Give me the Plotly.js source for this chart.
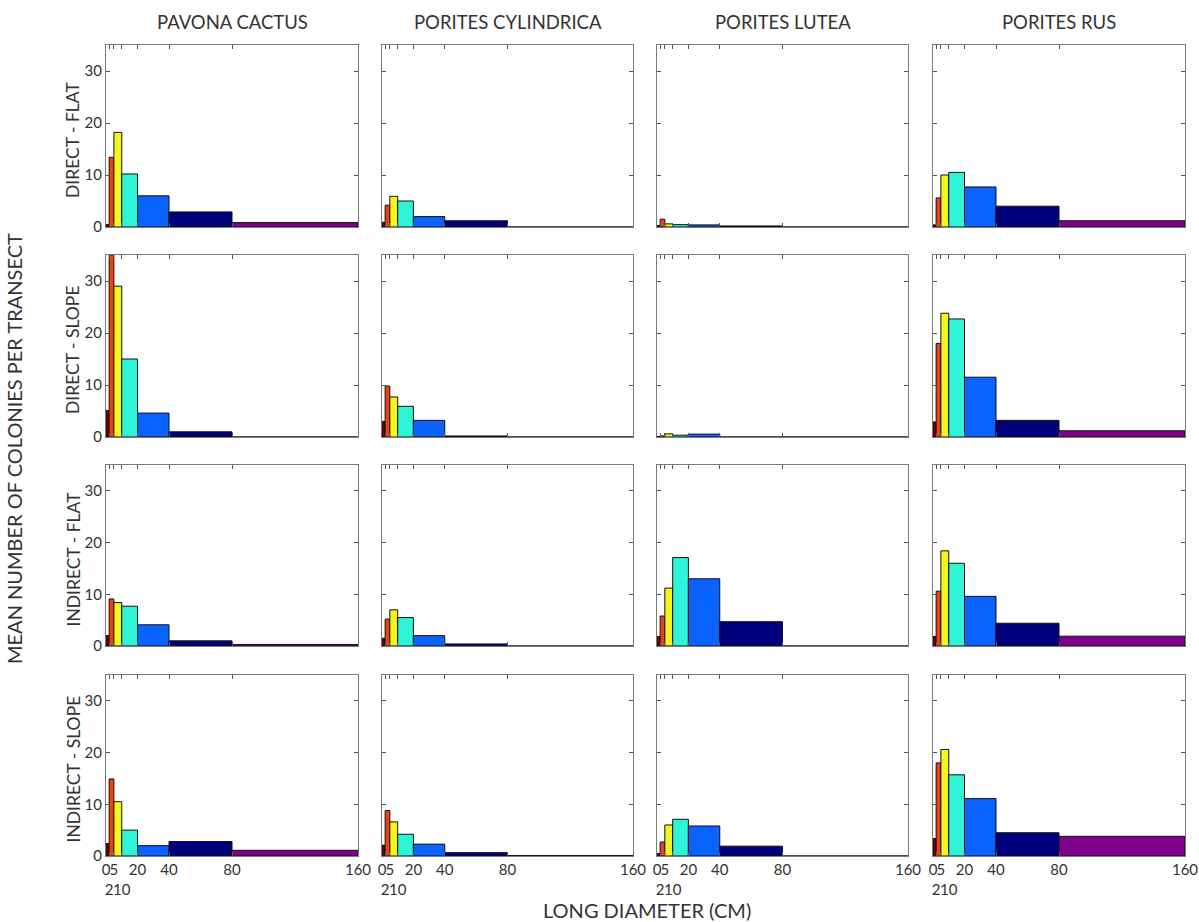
<!DOCTYPE html>
<html>
<head>
<meta charset="utf-8">
<script src="https://cdn.plot.ly/plotly-3.0.1.min.js"></script>
<style>html,body{margin:0;padding:0;background:#fff;}#chart{width:1199px;height:922px;}</style>
</head>
<body>
<div id="chart"></div>
<script>
// ---- DATA ----
const binEdges = [0, 2, 5, 10, 20, 40, 80, 160];
const binColors = ["#7a0000", "#f04010", "#f4f420", "#30f4d8", "#0a62ff", "#00007c", "#80008c"];
const species = ["PAVONA CACTUS", "PORITES CYLINDRICA", "PORITES LUTEA", "PORITES RUS"];
const habitats = ["DIRECT - FLAT", "DIRECT - SLOPE", "INDIRECT - FLAT", "INDIRECT - SLOPE"];
const xTickVals = [0, 2, 5, 10, 20, 40, 80, 160];
const xTickText = ["0", "<br>2", "5", "<br>10", "20", "40", "80", "160"];
const yTickVals = [0, 10, 20, 30];

// mean colonies per transect for each size bin (0-2,2-5,5-10,10-20,20-40,40-80,80-160)
const pavonaDirectFlat      = [0.5, 13.4, 18.2, 10.2, 6.0, 2.9, 0.85];
const cylindricaDirectFlat  = [0.9, 4.2, 5.9, 5.0, 2.0, 1.2, 0];
const luteaDirectFlat       = [0.3, 1.5, 0.6, 0.45, 0.4, 0.2, 0];
const rusDirectFlat         = [0.4, 5.6, 10.0, 10.5, 7.7, 4.0, 1.2];

const pavonaDirectSlope     = [5.1, 35, 29.0, 15.0, 4.6, 1.0, 0];
const cylindricaDirectSlope = [3.0, 9.8, 7.7, 5.9, 3.2, 0.2, 0];
const luteaDirectSlope      = [0.1, 0.2, 0.6, 0.35, 0.55, 0, 0];
const rusDirectSlope        = [2.9, 18.0, 23.8, 22.7, 11.5, 3.2, 1.2];

const pavonaIndirectFlat     = [2.0, 9.1, 8.4, 7.7, 4.1, 1.0, 0.3];
const cylindricaIndirectFlat = [1.5, 5.2, 7.0, 5.5, 2.0, 0.4, 0];
const luteaIndirectFlat      = [1.8, 5.8, 11.2, 17.1, 13.0, 4.7, 0];
const rusIndirectFlat        = [1.85, 10.6, 18.4, 16.0, 9.6, 4.4, 1.9];

const pavonaIndirectSlope     = [2.4, 14.9, 10.5, 5.0, 2.0, 2.8, 1.1];
const cylindricaIndirectSlope = [2.1, 8.8, 6.6, 4.2, 2.3, 0.65, 0.1];
const luteaIndirectSlope      = [0.5, 2.7, 6.0, 7.1, 5.8, 1.9, 0];
const rusIndirectSlope        = [3.4, 18.0, 20.6, 15.7, 11.1, 4.5, 3.8];

const panelData = [
  [pavonaDirectFlat, cylindricaDirectFlat, luteaDirectFlat, rusDirectFlat],
  [pavonaDirectSlope, cylindricaDirectSlope, luteaDirectSlope, rusDirectSlope],
  [pavonaIndirectFlat, cylindricaIndirectFlat, luteaIndirectFlat, rusIndirectFlat],
  [pavonaIndirectSlope, cylindricaIndirectSlope, luteaIndirectSlope, rusIndirectSlope]
];

// ---- LAYOUT ----
const W = 1199, H = 922;
const colPx = [[106, 358], [382, 633], [657, 908], [933, 1185]];
const rowPx = [[45, 227], [255, 437], [465, 646], [675, 856]];
const textColor = "#333";
const fontFamily = "Lato, 'DejaVu Sans', sans-serif";

const centers = binEdges.slice(0, -1).map((e, i) => (e + binEdges[i + 1]) / 2);
const widths = binEdges.slice(0, -1).map((e, i) => binEdges[i + 1] - e);

const traces = [];
const layout = {
  width: W, height: H,
  margin: {l: 0, r: 0, t: 0, b: 0},
  paper_bgcolor: "#fff", plot_bgcolor: "#fff",
  showlegend: false,
  font: {family: fontFamily, color: textColor, size: 14},
  annotations: []
};

for (let r = 0; r < 4; r++) {
  for (let c = 0; c < 4; c++) {
    const k = r * 4 + c + 1;
    const xa = k === 1 ? "x" : "x" + k;
    const ya = k === 1 ? "y" : "y" + k;
    traces.push({
      type: "bar",
      x: centers,
      y: panelData[r][c],
      width: widths,
      xaxis: xa, yaxis: ya,
      marker: {color: binColors, line: {color: "#111", width: 1}},
      hoverinfo: "x+y"
    });
    const xKey = k === 1 ? "xaxis" : "xaxis" + k;
    const yKey = k === 1 ? "yaxis" : "yaxis" + k;
    layout[xKey] = {
      domain: [colPx[c][0] / W, colPx[c][1] / W],
      anchor: ya,
      range: [0, 160],
      tickvals: xTickVals,
      ticktext: xTickText,
      showticklabels: r === 3,
      ticks: "inside", ticklen: 4, tickcolor: "#555",
      mirror: "ticks",
      showline: true, linecolor: "#7a7a7a", linewidth: 1,
      showgrid: false, zeroline: false,
      tickfont: {size: 15, color: textColor, family: fontFamily},
      tickangle: 0
    };
    layout[yKey] = {
      domain: [1 - rowPx[r][1] / H, 1 - rowPx[r][0] / H],
      anchor: xa,
      range: [0, 35],
      tickvals: yTickVals,
      showticklabels: c === 0,
      ticks: "inside", ticklen: 4, tickcolor: "#555",
      mirror: "ticks",
      showline: true, linecolor: "#7a7a7a", linewidth: 1,
      showgrid: false, zeroline: false,
      tickfont: {size: 15, color: textColor, family: fontFamily}
    };
  }
}

// column titles
species.forEach((s, c) => {
  layout.annotations.push({
    text: s, xref: "paper", yref: "paper",
    x: (colPx[c][0] + colPx[c][1]) / 2 / W, y: 1 - 22 / H,
    xanchor: "center", yanchor: "middle", showarrow: false,
    font: {size: 18.5, color: textColor, family: fontFamily}
  });
});
// row titles
habitats.forEach((h, r) => {
  layout.annotations.push({
    text: h, xref: "paper", yref: "paper",
    x: 73 / W, y: 1 - ((rowPx[r][0] + rowPx[r][1]) / 2 + 4) / H,
    xanchor: "center", yanchor: "middle", showarrow: false, textangle: -90,
    font: {size: 17.5, color: textColor, family: fontFamily}
  });
});
layout.annotations.push({
  text: "MEAN NUMBER OF COLONIES PER TRANSECT", xref: "paper", yref: "paper",
  x: 14 / W, y: 1 - 449 / H, xanchor: "center", yanchor: "middle",
  showarrow: false, textangle: -90,
  font: {size: 20, color: textColor, family: fontFamily}
});
layout.annotations.push({
  text: "LONG DIAMETER (CM)", xref: "paper", yref: "paper",
  x: 647 / W, y: 1 - 910 / H, xanchor: "center", yanchor: "middle",
  showarrow: false,
  font: {size: 20, color: textColor, family: fontFamily}
});

Plotly.newPlot("chart", traces, layout, {staticPlot: true, displayModeBar: false});
</script>
</body>
</html>
